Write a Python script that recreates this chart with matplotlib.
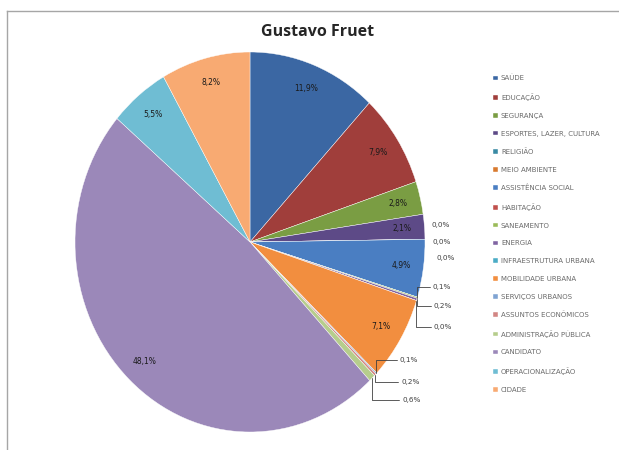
import matplotlib
matplotlib.use("Agg")
import matplotlib.pyplot as plt
from matplotlib.lines import Line2D
import numpy as np

title = "Gustavo Fruet"
categories = ["SAÚDE", "EDUCAÇÃO", "SEGURANÇA", "ESPORTES, LAZER, CULTURA", "RELIGIÃO",
              "MEIO AMBIENTE", "ASSISTÊNCIA SOCIAL", "HABITAÇÃO", "SANEAMENTO", "ENERGIA",
              "INFRAESTRUTURA URBANA", "MOBILIDADE URBANA", "SERVIÇOS URBANOS",
              "ASSUNTOS ECONÔMICOS", "ADMINISTRAÇÃO PÚBLICA", "CANDIDATO",
              "OPERACIONALIZAÇÃO", "CIDADE"]
values = [11.9, 7.9, 2.8, 2.1, 0.0, 0.0, 4.9, 0.0, 0.1, 0.2, 0.0, 7.1, 0.1, 0.2, 0.6, 48.1, 5.5, 8.2]

colors = ["#3B67A3", "#A03E3B", "#7A9D43", "#5D4A87", "#3A8AA4", "#D87A2F",
          "#4A7EC2", "#C0504D", "#9BBB59", "#8064A2", "#4BACC6", "#F28E3F",
          "#7FA3D2", "#D28684", "#B6CD8C", "#9B88B9", "#6FBDD3", "#F8AA72"]

# label offsets (pixels) for tiny slices, and whether a leader line is drawn
small_offsets = {4: ((7, 14), False), 5: ((8, -3), False), 7: ((19, 39), False),
                 8: ((15, 11), True), 9: ((17, -7), True), 10: ((17, -26), True),
                 12: ((23, 13), True), 13: ((26, -7), True), 14: ((30, -22), True)}

W, H = 619, 450
fig = plt.figure(figsize=(W / 100, H / 100), dpi=100)
fig.patch.set_facecolor("white")

# chart border (top and left visible)
fig.add_artist(Line2D([7 / W, 7 / W], [0, 1 - 11 / H], color="#a6a6a6", lw=1.0))
fig.add_artist(Line2D([7 / W, 1], [1 - 11 / H, 1 - 11 / H], color="#a6a6a6", lw=1.0))

ax = fig.add_axes([75 / W, 18 / H, 350 / W, 380 / H])
wedges, _ = ax.pie(values, colors=colors, startangle=90, counterclock=False,
                   radius=1.0, wedgeprops=dict(edgecolor="white", linewidth=0.3))
ax.set_aspect("auto")
ax.set_xlim(-1, 1)
ax.set_ylim(-1, 1)
ax.axis("off")

def fmt(v):
    return f"{v:.1f}%".replace(".", ",")

for i, (w, v) in enumerate(zip(wedges, values)):
    mid = np.deg2rad((w.theta1 + w.theta2) / 2)
    if i in small_offsets:
        off, leader = small_offsets[i]
        ax.annotate(fmt(v), xy=(np.cos(mid), np.sin(mid)), xytext=off,
                    textcoords="offset pixels", ha="left", va="center",
                    fontsize=5.2, color="#404040",
                    arrowprops=(dict(arrowstyle="-", color="#404040", lw=0.6,
                                     shrinkA=0, shrinkB=0,
                                     connectionstyle="angle,angleA=0,angleB=90,rad=0")
                                if leader else None))
    else:
        r = 0.87
        ax.text(r * np.cos(mid), r * np.sin(mid), fmt(v), ha="center", va="center",
                fontsize=5.5, color="#1a1a1a")

fig.text(318 / W, 1 - 32 / H, title, ha="center", va="center", fontsize=11.5,
         fontweight="bold", color="#262626", family=["Open Sans", "DejaVu Sans"])

fig.legend(wedges, categories, loc="upper left", bbox_to_anchor=(493 / W, 1 - 75 / H),
           bbox_transform=fig.transFigure, frameon=False, fontsize=5,
           handlelength=0.65, handleheight=0.65, handletextpad=0.5,
           labelspacing=1.7, labelcolor="#6a6a6a", borderpad=0, borderaxespad=0)

fig.savefig("out.png", dpi=100)
